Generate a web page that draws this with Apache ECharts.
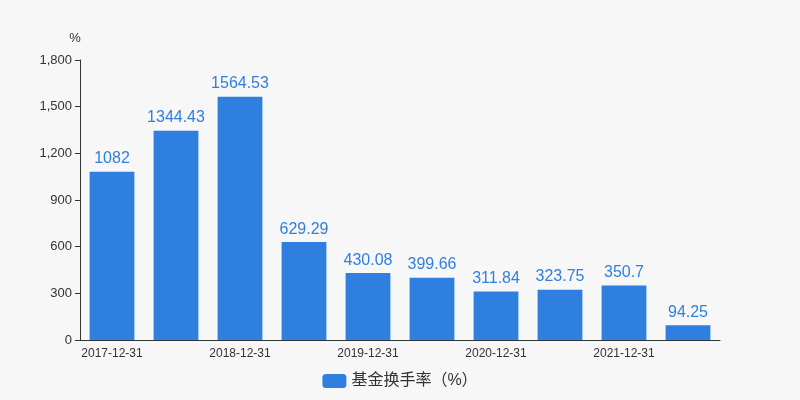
<!DOCTYPE html>
<html>
<head>
<meta charset="utf-8">
<script src="https://cdn.jsdelivr.net/npm/echarts@6/dist/echarts.min.js"></script>
<style>
html,body{margin:0;padding:0;background:#f7f7f7;}
#main{width:800px;height:400px;}
</style>
</head>
<body>
<div id="main"></div>
<script>
var categories = ['2017-12-31', '2018-06-30', '2018-12-31', '2019-06-30', '2019-12-31',
    '2020-06-30', '2020-12-31', '2021-06-30', '2021-12-31', '2022-06-30'];
var turnover = [1082, 1344.43, 1564.53, 629.29, 430.08, 399.66, 311.84, 323.75, 350.7, 94.25];

var myChart = echarts.init(document.getElementById('main'));
var option = {
    backgroundColor: '#f7f7f7',
    textStyle: {fontFamily: 'Arial, "Noto Sans CJK SC", sans-serif'},
    grid: {left: 80, right: 80, top: 60, bottom: 60},
    legend: {
        bottom: 6,
        itemWidth: 24,
        itemHeight: 14,
        textStyle: {fontSize: 16, color: '#333'},
        data: ['基金换手率（%）']
    },
    xAxis: {
        type: 'category',
        data: categories,
        axisLine: {lineStyle: {color: '#333'}},
        axisTick: {show: false},
        axisLabel: {interval: 1, color: '#333', fontSize: 12}
    },
    yAxis: {
        type: 'value',
        name: '%',
        nameTextStyle: {color: '#333', fontSize: 13, padding: [0, 10, 0, 0]},
        min: 0,
        max: 1800,
        interval: 300,
        axisLine: {show: true, lineStyle: {color: '#333'}},
        axisTick: {show: true},
        splitLine: {show: false},
        axisLabel: {color: '#333', fontSize: 13}
    },
    series: [{
        name: '基金换手率（%）',
        type: 'bar',
        barWidth: '70%',
        itemStyle: {color: '#2e7fe0'},
        label: {show: true, position: 'top', color: '#2e7fe0', fontSize: 16},
        data: turnover
    }]
};
myChart.setOption(option);
</script>
</body>
</html>
